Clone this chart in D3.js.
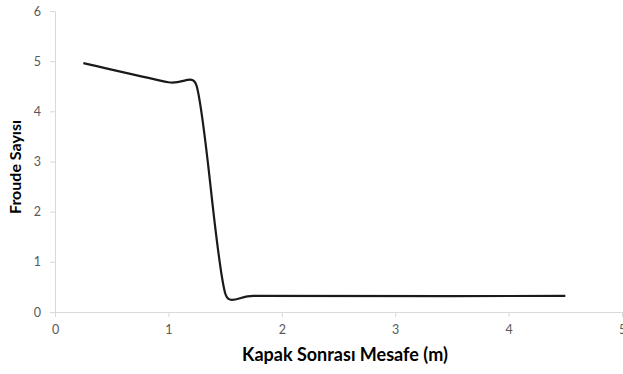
<!DOCTYPE html>
<html>
<head>
<meta charset="utf-8">
<script src="https://cdn.jsdelivr.net/npm/d3@7"></script>
<style>
  html, body { margin: 0; padding: 0; background: #fff; }
  svg { display: block; }
</style>
</head>
<body>
<svg id="chart" width="623" height="374"></svg>
<script>
// Distance after the gate (m) and measured Froude number
const distance = [0.25, 1.0, 1.25, 1.5, 1.75, 4.5];
const froude   = [4.96, 4.58, 4.50, 0.38, 0.32, 0.32];
const xTicks = [0, 1, 2, 3, 4, 5];
const yTicks = [0, 1, 2, 3, 4, 5, 6];
const xTitle = "Kapak Sonrası Mesafe (m)";
const yTitle = "Froude Sayısı";

const svg = d3.select("#chart");
const plot = { left: 55, right: 622, top: 11, bottom: 312 };

const x = d3.scaleLinear().domain([0, 5]).range([plot.left, plot.right]);
const y = d3.scaleLinear().domain([0, 6]).range([plot.bottom, plot.top]);

const font = "Lato, 'Open Sans', sans-serif";

// Axes
const xAxis = svg.append("g")
  .attr("transform", `translate(0,${plot.bottom})`)
  .call(d3.axisBottom(x).tickValues(xTicks).tickSize(5).tickPadding(8).tickFormat(d3.format("d")));
const yAxis = svg.append("g")
  .attr("transform", `translate(${plot.left},0)`)
  .call(d3.axisLeft(y).tickValues(yTicks).tickSize(5).tickPadding(9).tickFormat(d3.format("d")));

[xAxis, yAxis].forEach(g => {
  g.select(".domain").attr("stroke", "#d9d9d9").attr("stroke-width", 1);
  g.selectAll(".tick line").attr("stroke", "#d9d9d9");
  g.selectAll(".tick text")
    .attr("fill", "#595959")
    .style("font-family", font)
    .style("font-size", "12.5px");
});

// Smoothed line: cubic Bézier segments with Catmull-Rom tangents (1/6 of the
// neighbour chord), each control arm limited to half of its segment length.
function smoothPath(pts) {
  const p = d3.path();
  const n = pts.length;
  const arm = (i, seg) => {
    const a = pts[Math.max(i - 1, 0)], b = pts[Math.min(i + 1, n - 1)];
    const span = (i === 0 || i === n - 1) ? 3 : 6;
    let dx = (b[0] - a[0]) / span, dy = (b[1] - a[1]) / span;
    const len = Math.hypot(dx, dy);
    const limit = 0.5 * Math.hypot(seg[1][0] - seg[0][0], seg[1][1] - seg[0][1]);
    if (len > limit && len > 0) { dx *= limit / len; dy *= limit / len; }
    return [dx, dy];
  };
  p.moveTo(pts[0][0], pts[0][1]);
  for (let i = 0; i < n - 1; i++) {
    const seg = [pts[i], pts[i + 1]];
    const a0 = arm(i, seg), a1 = arm(i + 1, seg);
    p.bezierCurveTo(
      pts[i][0] + a0[0], pts[i][1] + a0[1],
      pts[i + 1][0] - a1[0], pts[i + 1][1] - a1[1],
      pts[i + 1][0], pts[i + 1][1]);
  }
  return p.toString();
}

const points = distance.map((d, i) => [x(d), y(froude[i])]);

svg.append("path")
  .attr("fill", "none")
  .attr("stroke", "#1a1a1a")
  .attr("stroke-width", 2.2)
  .attr("stroke-linejoin", "round")
  .attr("d", smoothPath(points));

// Axis titles
svg.append("text")
  .attr("x", 345).attr("y", 361)
  .attr("text-anchor", "middle")
  .style("font-family", font)
  .style("font-size", "18px")
  .style("font-weight", "bold")
  .attr("fill", "#000")
  .text(xTitle);

svg.append("text")
  .attr("transform", "translate(21,167) rotate(-90)")
  .attr("text-anchor", "middle")
  .style("font-family", font)
  .style("font-size", "16px")
  .style("font-weight", "bold")
  .attr("fill", "#000")
  .text(yTitle);
</script>
</body>
</html>
